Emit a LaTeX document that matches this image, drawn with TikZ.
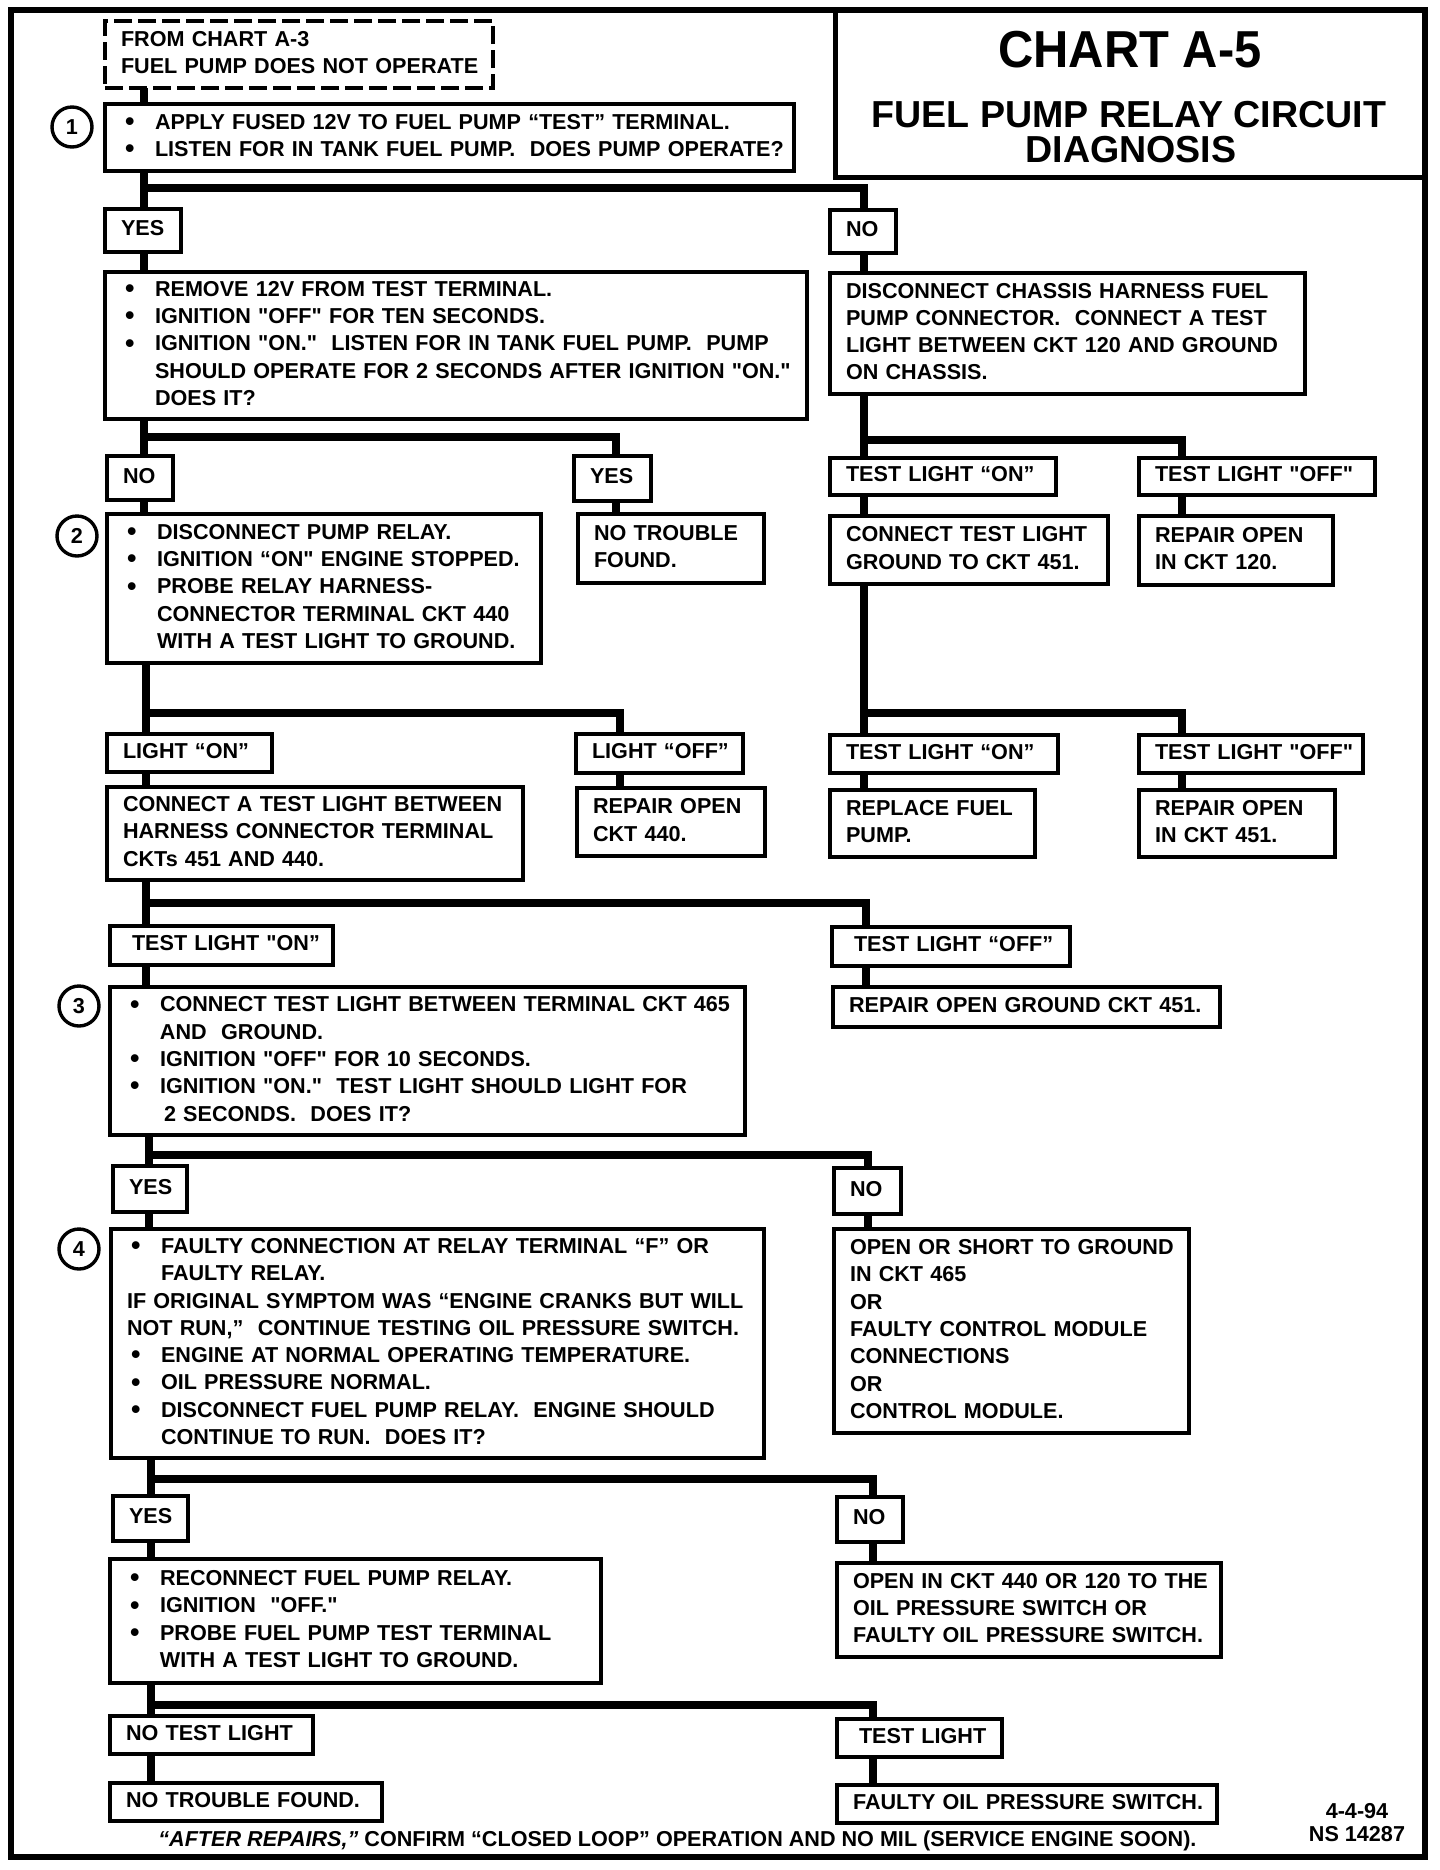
\documentclass[tikz,border=0pt]{standalone}
\usepackage{fontspec}
\setmainfont{Liberation Sans}
\newfontfamily\titlefont{Liberation Sans}[FakeStretch=0.94]
\tikzset{
  chbox/.style={draw, line width=1.8pt, inner xsep=8pt, inner ysep=0pt, outer sep=0pt,
    anchor=north west, align=left, font=\bfseries\fontsize{10.8}{13.65}\selectfont},
  dashbox/.style={dash pattern=on 9pt off 3pt},
  conn/.style={line width=4pt, line join=miter},
  numcirc/.style={draw, circle, line width=1.7pt, minimum size=20pt, inner sep=0pt,
    font=\bfseries\fontsize{10.8}{12}\selectfont},
  plaintext/.style={font=\bfseries\fontsize{10.8}{13.65}\selectfont, inner sep=0pt},
  titletext/.style={inner sep=0pt, anchor=base},
}
\newcommand\bx[7][]{%
  \pgfmathsetmacro\bxw{(#5-#3)*0.5-16}%
  \pgfmathsetmacro\bxh{(#6-#4)*0.5}%
  \node[chbox, #1, text width=\bxw pt, minimum height=\bxh pt] (#2) at (#3,#4)
    {\begin{tabular}{@{}l@{}}#7\end{tabular}};}
\newcommand\bi{\makebox[17pt][l]{\hspace{2pt}\raisebox{-0.6pt}{\fontsize{13.5}{13.5}\selectfont\textbullet}}}
\newcommand\ci{\hspace*{17pt}}
\newcommand\dsp{\ \ }
\newcommand\q{\textquotedbl}
\begin{document}
\begin{tikzpicture}[x=0.5pt,y=-0.5pt]
\useasboundingbox (0,0) rectangle (1440,1870);
% outer frame and title
\draw[line width=3.2pt] (11,10) rectangle (1425,1857);
\node[draw, line width=2.5pt, outer sep=0pt, inner sep=0pt, anchor=north west,
  minimum width=295pt, minimum height=83.5pt] (title) at (835,10) {};
\node[titletext, font=\titlefont\bfseries\fontsize{26}{26}\selectfont] (t1) at (1130,67) {CHART A-5};
\node[titletext, font=\bfseries\fontsize{18.8}{19}\selectfont] (t2) at (1129,127) {FUEL PUMP RELAY CIRCUIT};
\node[titletext, font=\bfseries\fontsize{18.8}{19}\selectfont] (t3) at (1131,162) {DIAGNOSIS};

% boxes
\bx[dashbox]{start}{105}{21}{493}{88}{FROM CHART A-3\\FUEL PUMP DOES NOT OPERATE}
\bx{b1}{105}{104}{794}{171}{\bi APPLY FUSED 12V TO FUEL PUMP “TEST” TERMINAL.\\
\bi LISTEN FOR IN TANK FUEL PUMP.\dsp DOES PUMP OPERATE?}
\bx{yes1}{105}{209}{181}{252}{YES}
\bx{no1}{830}{210}{896}{253}{NO}
\bx{b2}{105}{272}{807}{419}{\bi REMOVE 12V FROM TEST TERMINAL.\\
\bi IGNITION \q OFF\q\ FOR TEN SECONDS.\\
\bi IGNITION \q ON.\q\dsp LISTEN FOR IN TANK FUEL PUMP.\dsp PUMP\\
\ci SHOULD OPERATE FOR 2 SECONDS AFTER IGNITION \q ON.\q\\
\ci DOES IT?}
\bx{b2r}{830}{273}{1305}{394}{DISCONNECT CHASSIS HARNESS FUEL\\
PUMP CONNECTOR.\dsp CONNECT A TEST\\
LIGHT BETWEEN CKT 120 AND GROUND\\
ON CHASSIS.}
\bx{no2}{107}{456}{173}{500}{NO}
\bx{yes2}{574}{456}{651}{501}{YES}
\bx{b3}{107}{514}{541}{663}{\bi DISCONNECT PUMP RELAY.\\
\bi IGNITION “ON\q\ ENGINE STOPPED.\\
\bi PROBE RELAY HARNESS-\\
\ci CONNECTOR TERMINAL CKT 440\\
\ci WITH A TEST LIGHT TO GROUND.}
\bx{ntf1}{578}{514}{764}{583}{NO TROUBLE\\FOUND.}
\bx{tlon1}{830}{458}{1056}{495}{TEST LIGHT “ON”}
\bx{tloff1}{1139}{458}{1375}{495}{TEST LIGHT \q OFF\q}
\bx{ctl}{830}{516}{1108}{584}{CONNECT TEST LIGHT\\GROUND TO CKT 451.}
\bx{roc120}{1139}{516}{1333}{585}{REPAIR OPEN\\IN CKT 120.}
\bx{lon}{107}{734}{272}{772}{LIGHT “ON”}
\bx{loff}{576}{734}{743}{773}{LIGHT “OFF”}
\bx{catl}{107}{787}{523}{880}{CONNECT A TEST LIGHT BETWEEN\\
HARNESS CONNECTOR TERMINAL\\
CKTs 451 AND 440.}
\bx{ro440}{577}{788}{765}{856}{REPAIR OPEN\\CKT 440.}
\bx{tlon2}{830}{735}{1058}{773}{TEST LIGHT “ON”}
\bx{tloff2}{1139}{735}{1363}{773}{TEST LIGHT \q OFF\q}
\bx{rfp}{830}{790}{1035}{857}{REPLACE FUEL\\PUMP.}
\bx{ro451}{1139}{790}{1335}{857}{REPAIR OPEN\\IN CKT 451.}
\bx{tlon3}{110}{926}{333}{965}{\hspace*{3pt}TEST LIGHT \q ON”}
\bx{tloff3}{832}{927}{1070}{966}{\hspace*{3pt}TEST LIGHT “OFF”}
\bx{rog}{833}{987}{1220}{1027}{REPAIR OPEN GROUND CKT 451.}
\bx{b4}{110}{987}{745}{1135}{\bi CONNECT TEST LIGHT BETWEEN TERMINAL CKT 465\\
\ci AND\dsp GROUND.\\
\bi IGNITION \q OFF\q\ FOR 10 SECONDS.\\
\bi IGNITION \q ON.\q\dsp TEST LIGHT SHOULD LIGHT FOR\\
\hspace*{19pt}2 SECONDS.\dsp DOES IT?}
\bx{yes3}{113}{1166}{187}{1212}{YES}
\bx{no3}{834}{1168}{901}{1214}{NO}
\bx{b5}{111}{1229}{764}{1458}{\bi FAULTY CONNECTION AT RELAY TERMINAL “F” OR\\
\ci FAULTY RELAY.\\
IF ORIGINAL SYMPTOM WAS “ENGINE CRANKS BUT WILL\\
NOT RUN,”\dsp CONTINUE TESTING OIL PRESSURE SWITCH.\\
\bi ENGINE AT NORMAL OPERATING TEMPERATURE.\\
\bi OIL PRESSURE NORMAL.\\
\bi DISCONNECT FUEL PUMP RELAY.\dsp ENGINE SHOULD\\
\ci CONTINUE TO RUN.\dsp DOES IT?}
\bx{osg}{834}{1229}{1189}{1433}{OPEN OR SHORT TO GROUND\\
IN CKT 465\\
OR\\
FAULTY CONTROL MODULE\\
CONNECTIONS\\
OR\\
CONTROL MODULE.}
\bx{yes4}{113}{1496}{188}{1541}{YES}
\bx{no4}{837}{1497}{903}{1542}{NO}
\bx{b6}{110}{1559}{601}{1683}{\bi RECONNECT FUEL PUMP RELAY.\\
\bi IGNITION\dsp \q OFF.\q\\
\bi PROBE FUEL PUMP TEST TERMINAL\\
\ci WITH A TEST LIGHT TO GROUND.}
\bx{oic}{837}{1563}{1221}{1657}{OPEN IN CKT 440 OR 120 TO THE\\
OIL PRESSURE SWITCH OR\\
FAULTY OIL PRESSURE SWITCH.}
\bx{ntl}{110}{1716}{313}{1754}{NO TEST LIGHT}
\bx{tl}{837}{1719}{1002}{1757}{\hspace*{3pt}TEST LIGHT}
\bx{ntf2}{110}{1783}{382}{1821}{NO TROUBLE FOUND.}
\bx{fops}{837}{1785}{1217}{1823}{FAULTY OIL PRESSURE SWITCH.}

% step numbers
\node[numcirc] (c1) at (72,127) {1};
\node[numcirc] (c2) at (77,536) {2};
\node[numcirc] (c3) at (79,1006) {3};
\node[numcirc] (c4) at (79,1249) {4};

% footer
\node[plaintext, anchor=base west] (foot) at (158,1846)
  {\textit{“AFTER REPAIRS,”} CONFIRM “CLOSED LOOP” OPERATION AND NO MIL (SERVICE ENGINE SOON).};
\node[plaintext, anchor=base] (date) at (1357,1818) {4-4-94};
\node[plaintext, anchor=base] (ns) at (1357,1841) {NS 14287};

% junction points
\coordinate (j1) at (144,188);  \coordinate (j1r) at (864,188);
\coordinate (j2) at (144,437);  \coordinate (j2r) at (616,437);
\coordinate (k2) at (864,440);  \coordinate (k2r) at (1182,440);
\coordinate (j3) at (146,713);  \coordinate (j3r) at (620,713);
\coordinate (k3) at (864,713);  \coordinate (k3r) at (1182,713);
\coordinate (j4) at (146,903);  \coordinate (j4r) at (866,903);
\coordinate (j5) at (149,1155); \coordinate (j5r) at (868,1155);
\coordinate (j6) at (151,1479); \coordinate (j6r) at (873,1479);
\coordinate (j7) at (151,1705); \coordinate (j7r) at (873,1705);

% connectors
\draw[conn] (start.south -| j1) -- (b1.north -| j1);
\draw[conn] (b1.south -| j1) -- (yes1.north -| j1);
\draw[conn] (j1) -- (j1r) -- (no1.north -| j1r);
\draw[conn] (yes1.south -| j1) -- (b2.north -| j1);
\draw[conn] (no1.south -| j1r) -- (b2r.north -| j1r);

\draw[conn] (b2.south -| j2) -- (no2.north -| j2);
\draw[conn] (j2) -- (j2r) -- (yes2.north -| j2r);
\draw[conn] (no2.south -| j2) -- (b3.north -| j2);
\draw[conn] (yes2.south -| j2r) -- (ntf1.north -| j2r);

\draw[conn] (b2r.south -| k2) -- (tlon1.north -| k2);
\draw[conn] (k2) -- (k2r) -- (tloff1.north -| k2r);
\draw[conn] (tlon1.south -| k2) -- (ctl.north -| k2);
\draw[conn] (tloff1.south -| k2r) -- (roc120.north -| k2r);

\draw[conn] (ctl.south -| k3) -- (tlon2.north -| k3);
\draw[conn] (k3) -- (k3r) -- (tloff2.north -| k3r);
\draw[conn] (tlon2.south -| k3) -- (rfp.north -| k3);
\draw[conn] (tloff2.south -| k3r) -- (ro451.north -| k3r);

\draw[conn] (b3.south -| j3) -- (lon.north -| j3);
\draw[conn] (j3) -- (j3r) -- (loff.north -| j3r);
\draw[conn] (lon.south -| j3) -- (catl.north -| j3);
\draw[conn] (loff.south -| j3r) -- (ro440.north -| j3r);

\draw[conn] (catl.south -| j4) -- (tlon3.north -| j4);
\draw[conn] (j4) -- (j4r) -- (tloff3.north -| j4r);
\draw[conn] (tlon3.south -| j4) -- (b4.north -| j4);
\draw[conn] (tloff3.south -| j4r) -- (rog.north -| j4r);

\draw[conn] (b4.south -| j5) -- (yes3.north -| j5);
\draw[conn] (j5) -- (j5r) -- (no3.north -| j5r);
\draw[conn] (yes3.south -| j5) -- (b5.north -| j5);
\draw[conn] (no3.south -| j5r) -- (osg.north -| j5r);

\draw[conn] (b5.south -| j6) -- (yes4.north -| j6);
\draw[conn] (j6) -- (j6r) -- (no4.north -| j6r);
\draw[conn] (yes4.south -| j6) -- (b6.north -| j6);
\draw[conn] (no4.south -| j6r) -- (oic.north -| j6r);

\draw[conn] (b6.south -| j7) -- (ntl.north -| j7);
\draw[conn] (j7) -- (j7r) -- (tl.north -| j7r);
\draw[conn] (ntl.south -| j7) -- (ntf2.north -| j7);
\draw[conn] (tl.south -| j7r) -- (fops.north -| j7r);
\end{tikzpicture}
\end{document}
